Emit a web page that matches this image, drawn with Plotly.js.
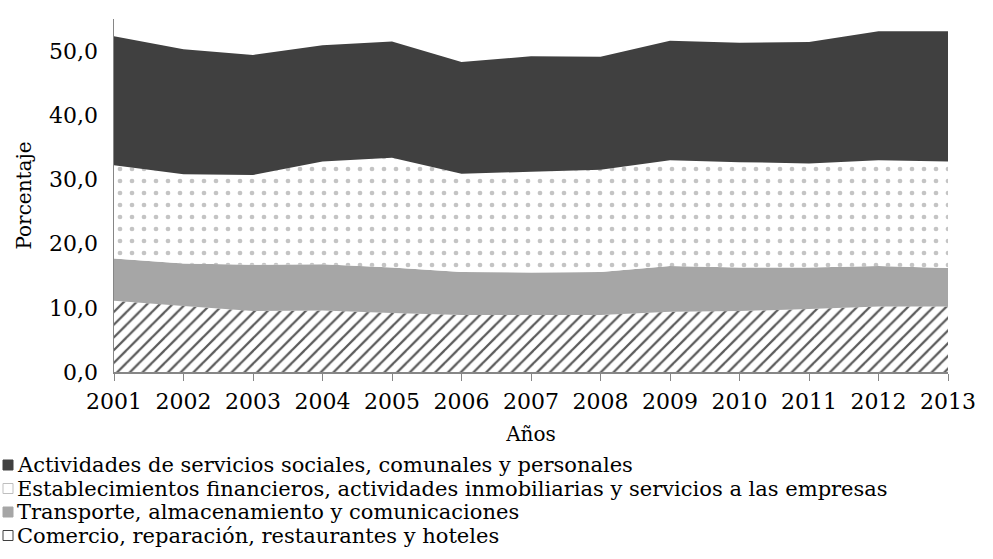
<!DOCTYPE html>
<html>
<head>
<meta charset="utf-8">
<script src="https://cdn.plot.ly/plotly-3.0.1.min.js"></script>
<style>html,body{margin:0;padding:0;background:#fff;}#chart{width:993px;height:559px;}</style>
</head>
<body>
<div id="chart"></div>
<script>
const years = [2001,2002,2003,2004,2005,2006,2007,2008,2009,2010,2011,2012,2013];
const comercio = [11.1,10.3,9.5,9.6,9.2,8.9,8.9,8.9,9.4,9.5,9.8,10.2,10.2];
const transporte = [6.6,6.6,7.2,7.2,7.1,6.7,6.6,6.7,7.1,6.8,6.5,6.3,6.0];
const establecimientos = [14.5,13.9,14.0,16.0,17.1,15.3,15.7,15.9,16.5,16.4,16.2,16.5,16.6];
const actividades = [20.1,19.5,18.7,18.1,18.1,17.4,18.0,17.6,18.6,18.6,18.9,20.1,20.3];
const names = [
  "Comercio, reparación, restaurantes y hoteles",
  "Transporte, almacenamiento y comunicaciones",
  "Establecimientos financieros, actividades inmobiliarias y servicios a las empresas",
  "Actividades de servicios sociales, comunales y personales"
];
const FONT = "DejaVu Serif, Liberation Serif, serif";

const traces = [
  {x: years, y: comercio, name: names[0], type: 'scatter', mode: 'none', stackgroup: 'a',
   fillcolor: '#ffffff', fillpattern: {shape: '/', fgcolor: '#5a5a5a', bgcolor: '#ffffff', size: 9, solidity: 0.25}},
  {x: years, y: transporte, name: names[1], type: 'scatter', mode: 'none', stackgroup: 'a',
   fillcolor: '#a6a6a6'},
  {x: years, y: establecimientos, name: names[2], type: 'scatter', mode: 'none', stackgroup: 'a',
   fillcolor: '#ffffff', fillpattern: {shape: '.', fgcolor: '#c4c4c4', bgcolor: '#ffffff', size: 12, solidity: 0.12}},
  {x: years, y: actividades, name: names[3], type: 'scatter', mode: 'none', stackgroup: 'a',
   fillcolor: '#404040'}
];

// Legend (drawn as annotations + small squares), top-to-bottom order
const W = 993, H = 559, ML = 114, MR = 45, MT = 19, MB = 187;
const PW = W - ML - MR, PH = H - MT - MB;
const px2x = p => (p - ML) / PW;
const py2y = p => (H - MB - p) / PH;
const legOrder = [3, 2, 1, 0];
const legFill = ['#ffffff', '#a6a6a6', '#ffffff', '#404040'];
const legLine = ['#404040', '#a6a6a6', '#bfbfbf', '#404040'];
const legY0 = 465, legDY = 23.5;
const annotations = [], shapes = [];
legOrder.forEach((ti, k) => {
  const cy = legY0 + k * legDY;
  annotations.push({
    xref: 'paper', yref: 'paper', x: px2x(16), y: py2y(cy), xanchor: 'left', yanchor: 'middle',
    text: names[ti], showarrow: false, borderpad: 0, font: {family: FONT, size: 21, color: '#000'}
  });
  shapes.push({
    type: 'rect', xref: 'paper', yref: 'paper',
    x0: px2x(3), x1: px2x(13), y0: py2y(cy - 5), y1: py2y(cy + 5),
    fillcolor: legFill[ti], line: {color: legLine[ti], width: 1}
  });
});

const layout = {
  width: W, height: H,
  margin: {l: ML, r: MR, t: MT, b: MB},
  paper_bgcolor: '#ffffff', plot_bgcolor: '#ffffff',
  font: {family: FONT, size: 20, color: '#000000'},
  separators: ',.',
  showlegend: false,
  annotations: annotations,
  shapes: shapes,
  xaxis: {
    range: [2001, 2013], tickvals: years, ticktext: years.map(String),
    showgrid: false, zeroline: false, showline: true, linecolor: '#868686', linewidth: 1.5,
    ticks: 'outside', ticklen: 7, tickcolor: '#868686', tickwidth: 1,
    ticklabelstandoff: 2,
    tickfont: {family: FONT, size: 22},
    title: {text: 'Años', font: {family: FONT, size: 20}, standoff: 14}
  },
  yaxis: {
    range: [0, 55], tickvals: [0,10,20,30,40,50], tickformat: '.1f',
    showgrid: false, zeroline: false, showline: true, linecolor: '#868686', linewidth: 1.5,
    ticks: '', ticklabelstandoff: 10,
    tickfont: {family: FONT, size: 22},
    title: {text: 'Porcentaje', font: {family: FONT, size: 20}, standoff: 12}
  }
};
Plotly.newPlot('chart', traces, layout, {displayModeBar: false, staticPlot: true});
</script>
</body>
</html>
